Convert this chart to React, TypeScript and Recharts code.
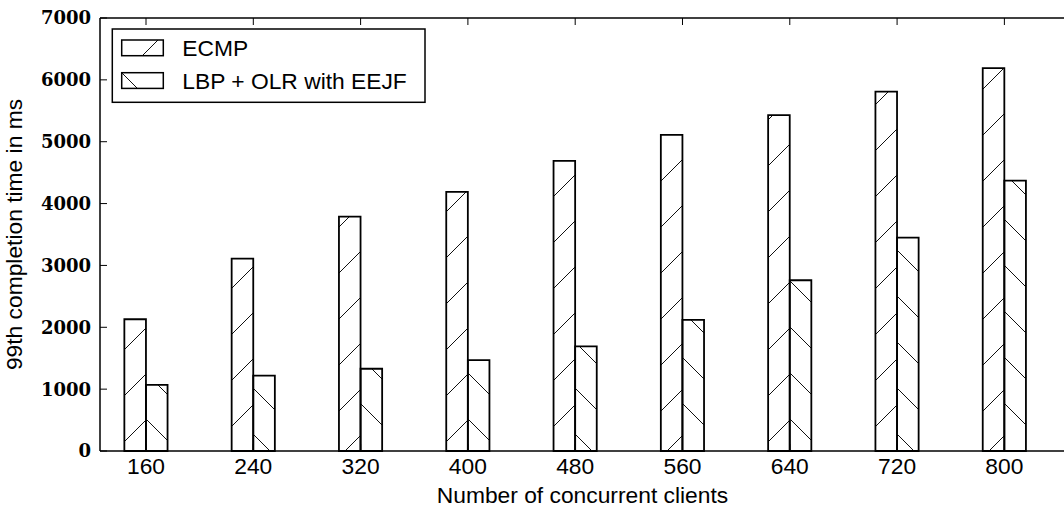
import { BarChart, Bar, XAxis, YAxis, Legend } from 'recharts'

const clients = [160, 240, 320, 400, 480, 560, 640, 720, 800]
const ecmpMs = [2130, 3110, 3790, 4190, 4690, 5110, 5430, 5810, 6190]
const lbpMs = [1070, 1220, 1330, 1470, 1690, 2120, 2760, 3450, 4370]
const yTicks = [0, 1000, 2000, 3000, 4000, 5000, 6000, 7000]

const data = clients.map((c, i) => ({ clients: c, ecmp: ecmpMs[i], lbp: lbpMs[i] }))

const SANS = '"Liberation Sans", Arial, Helvetica, sans-serif'
const SERIF = '"DejaVu Serif", serif'
const X_DOMAIN: [number, number] = [125.7, 845.2]
const TEXT = 22.8

// plot frame (matplotlib style box, ticks pointing inward)
const LEFT = 100
const RIGHT = 1065
const TOP = 18
const TICK = 7
const CHART_W = 1080

const axisLine = { stroke: '#000', strokeWidth: 1.5 }

const LeftTick = ({ y, payload }: any) => (
  <g>
    <line x1={LEFT} x2={LEFT + TICK} y1={y} y2={y} stroke="#000" strokeWidth={1} />
    <text
      x={LEFT - 9}
      y={y}
      dy="0.355em"
      textAnchor="end"
      fontFamily={SERIF}
      fontWeight="bold"
      fontSize={18}
      fill="#000"
    >
      {payload.value}
    </text>
  </g>
)

const RightTick = ({ y }: any) => (
  <line x1={RIGHT - TICK} x2={RIGHT} y1={y} y2={y} stroke="#000" strokeWidth={1} />
)

const TopTick = ({ x }: any) => (
  <line x1={x} x2={x} y1={TOP} y2={TOP + TICK} stroke="#000" strokeWidth={1} />
)

// legend drawn in page coordinates so the hatch phase matches the bars
function LegendBox({ payload }: any) {
  const rows = payload ?? []
  return (
    <svg
      width={316}
      height={78}
      viewBox="111 27 316 78"
      style={{ position: 'absolute', left: 111, top: 27, overflow: 'visible' }}
    >
      <rect x={112.3} y={29} width={312.7} height={73.3} fill="#fff" stroke="#000" strokeWidth={1.5} />
      {rows.map((entry: any, i: number) => {
        const y = 40 + i * 32.7
        return (
          <g key={entry.value}>
            <rect x={121.7} y={y} width={41.6} height={15.7} fill={entry.color} stroke="#000" strokeWidth={1.5} />
            <text x={182.3} y={y + 16} fontFamily={SANS} fontSize={TEXT} fill="#000">
              {entry.value}
            </text>
          </g>
        )
      })}
    </svg>
  )
}

export default function App() {
  return (
    <div style={{ width: 1064, height: 515, overflow: 'hidden', position: 'relative' }}>
      <style>{'body{margin:0}'}</style>
      <BarChart
        width={CHART_W}
        height={515}
        data={data}
        barGap={0}
        margin={{ top: TOP - 1, right: CHART_W - RIGHT - 1, bottom: 0, left: 0 }}
      >
        <defs>
          <pattern id="hatchA" patternUnits="userSpaceOnUse" x={14} y={0} width={46} height={46}>
            <path d="M-2,48 L48,-2 M-2,2 L2,-2 M44,48 L48,44" stroke="#111" strokeWidth={1} />
          </pattern>
          <pattern id="hatchB" patternUnits="userSpaceOnUse" x={3} y={0} width={46} height={46}>
            <path d="M-2,-2 L48,48 M44,-2 L48,2 M-2,44 L2,48" stroke="#111" strokeWidth={1} />
          </pattern>
        </defs>
        <XAxis
          xAxisId="bottom"
          dataKey="clients"
          type="number"
          domain={X_DOMAIN}
          ticks={clients}
          interval={0}
          height={64}
          tickSize={-7}
          tickMargin={14}
          axisLine={axisLine}
          tickLine={{ stroke: '#000', strokeWidth: 1 }}
          tick={{ fontFamily: SANS, fontSize: TEXT, fill: '#000' }}
          label={{
            value: 'Number of concurrent clients',
            position: 'insideBottom',
            offset: 12,
            style: { fontFamily: SANS, fontSize: TEXT, fill: '#000' },
          }}
        />
        <XAxis
          xAxisId="top"
          orientation="top"
          dataKey="clients"
          type="number"
          domain={X_DOMAIN}
          ticks={clients}
          interval={0}
          height={1}
          axisLine={axisLine}
          tickLine={false}
          tick={TopTick}
        />
        <YAxis
          yAxisId="left"
          domain={[0, 7000]}
          ticks={yTicks}
          interval={0}
          width={LEFT}
          axisLine={axisLine}
          tickLine={false}
          tick={LeftTick}
          label={{
            value: '99th completion time in ms',
            angle: -90,
            position: 'insideLeft',
            offset: 14,
            style: { textAnchor: 'middle', fontFamily: SANS, fontSize: TEXT, fill: '#000' },
          }}
        />
        <YAxis
          yAxisId="right"
          orientation="right"
          domain={[0, 7000]}
          ticks={yTicks}
          interval={0}
          width={1}
          axisLine={axisLine}
          tickLine={false}
          tick={RightTick}
        />
        <Legend
          layout="vertical"
          align="center"
          verticalAlign="middle"
          wrapperStyle={{ left: 0, top: 0, width: 0, height: 0 }}
          content={LegendBox}
        />
        <Bar
          xAxisId="bottom"
          yAxisId="left"
          dataKey="ecmp"
          name="ECMP"
          fill="url(#hatchA)"
          stroke="#000"
          strokeWidth={1.8}
          barSize={21.6}
          isAnimationActive={false}
        />
        <Bar
          xAxisId="bottom"
          yAxisId="left"
          dataKey="lbp"
          name="LBP + OLR with EEJF"
          fill="url(#hatchB)"
          stroke="#000"
          strokeWidth={1.8}
          barSize={21.6}
          isAnimationActive={false}
        />
      </BarChart>
    </div>
  )
}
